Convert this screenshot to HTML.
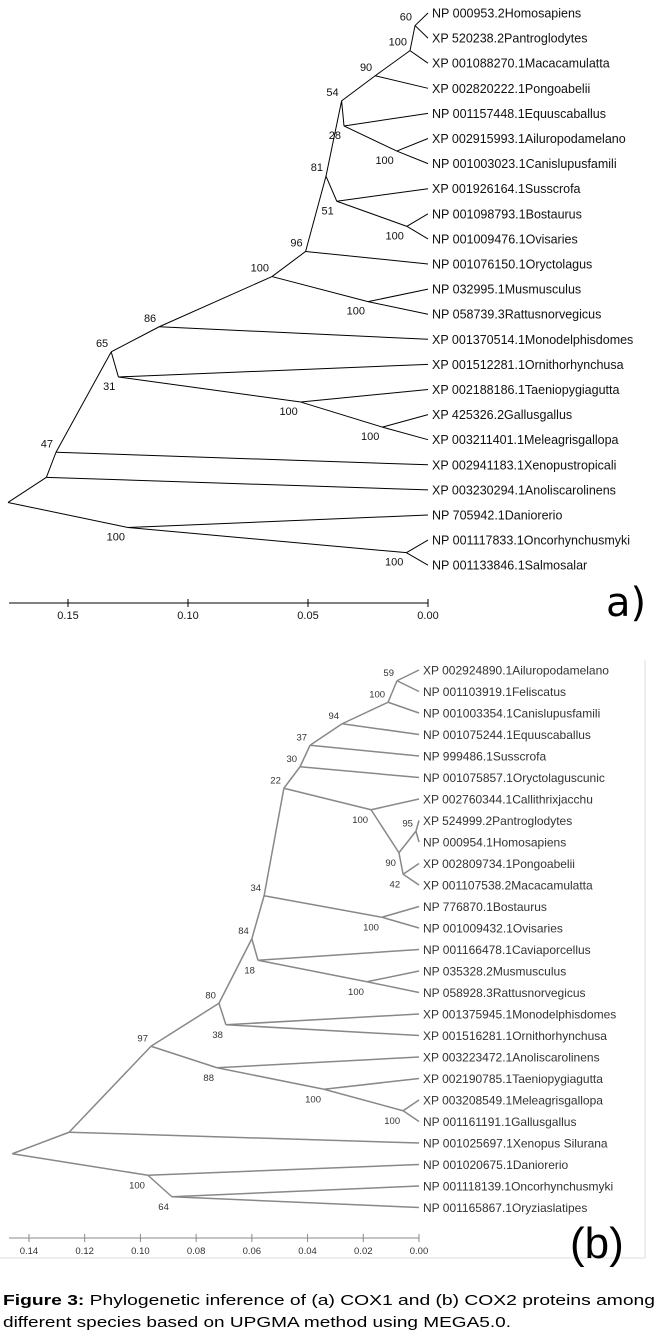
<!DOCTYPE html>
<html><head><meta charset="utf-8"><style>
html,body{margin:0;padding:0;background:#fff;}
svg{display:block;font-family:"Liberation Sans",sans-serif;}
</style></head><body>
<svg id="fig" width="659" height="1340" viewBox="0 0 659 1340" xmlns="http://www.w3.org/2000/svg">
<g id="treeA"></g>
<g id="treeB"></g>
<line x1="645" y1="660" x2="645" y2="1258" stroke="#ddd" stroke-width="1"/>
<line x1="0" y1="1258" x2="645" y2="1258" stroke="#ddd" stroke-width="1"/>
<text x="606" y="616" font-size="40" font-family="DejaVu Sans, sans-serif">a)</text>
<text x="570" y="1258" font-size="44">(b)</text>
<text x="3" y="1305" font-size="15" textLength="652" lengthAdjust="spacingAndGlyphs"><tspan font-weight="bold">Figure 3:</tspan> Phylogenetic inference of (a) COX1 and (b) COX2 proteins among</text>
<text x="3" y="1327" font-size="15" textLength="508" lengthAdjust="spacingAndGlyphs">different species based on UPGMA method using MEGA5.0.</text>
</svg>
<script>
// ---- Tree A (COX1) data ----
const leavesA = ["NP 000953.2Homosapiens","XP 520238.2Pantroglodytes","XP 001088270.1Macacamulatta","XP 002820222.1Pongoabelii","NP 001157448.1Equuscaballus","XP 002915993.1Ailuropodamelano","NP 001003023.1Canislupusfamili","XP 001926164.1Susscrofa","NP 001098793.1Bostaurus","NP 001009476.1Ovisaries","NP 001076150.1Oryctolagus","NP 032995.1Musmusculus","NP 058739.3Rattusnorvegicus","XP 001370514.1Monodelphisdomes","XP 001512281.1Ornithorhynchusa","XP 002188186.1Taeniopygiagutta","XP 425326.2Gallusgallus","XP 003211401.1Meleagrisgallopa","XP 002941183.1Xenopustropicali","XP 003230294.1Anoliscarolinens","NP 705942.1Daniorerio","NP 001117833.1Oncorhynchusmyki","NP 001133846.1Salmosalar"];
const nodeKidsA = [["L0","L1"],["N0","L2"],["N1","L3"],["L5","L6"],["L4","N3"],["N2","N4"],["L8","L9"],["L7","N6"],["N5","N7"],["N8","L10"],["L11","L12"],["N9","N10"],["N11","L13"],["L16","L17"],["L15","N13"],["L14","N14"],["N12","N15"],["N16","L18"],["N17","L19"],["L21","L22"],["L20","N19"],["N18","N20"]];
const nodeHeightsA = [0.0054,0.0075,0.022,0.013,0.035,0.036,0.0088,0.038,0.0425,0.051,0.025,0.065,0.112,0.019,0.053,0.129,0.132,0.155,0.159,0.009,0.125,0.175];
const nodeBootA = ["60","100","90","100","28","54","100","51","81","96","100","100","86","100","100","31","65","47","","100","100",""];
const bootSideA = ["a","a","a","b","b","a","b","b","a","a","b","a","a","b","b","b","a","a","","b","b",""];
const ticksA = [0.15,0.10,0.05,0.00];
const tickLabelsA = ["0.15","0.10","0.05","0.00"];
// ---- Tree B (COX2) data ----
const leavesB = ["XP 002924890.1Ailuropodamelano","NP 001103919.1Feliscatus","NP 001003354.1Canislupusfamili","NP 001075244.1Equuscaballus","NP 999486.1Susscrofa","NP 001075857.1Oryctolaguscunic","XP 002760344.1Callithrixjacchu","XP 524999.2Pantroglodytes","NP 000954.1Homosapiens","XP 002809734.1Pongoabelii","XP 001107538.2Macacamulatta","NP 776870.1Bostaurus","NP 001009432.1Ovisaries","NP 001166478.1Caviaporcellus","NP 035328.2Musmusculus","NP 058928.3Rattusnorvegicus","XP 001375945.1Monodelphisdomes","XP 001516281.1Ornithorhynchusa","XP 003223472.1Anoliscarolinens","XP 002190785.1Taeniopygiagutta","XP 003208549.1Meleagrisgallopa","NP 001161191.1Gallusgallus","NP 001025697.1Xenopus Silurana","NP 001020675.1Daniorerio","NP 001118139.1Oncorhynchusmyki","NP 001165867.1Oryziaslatipes"];
const nodeKidsB = [["L0","L1"],["N0","L2"],["N1","L3"],["N2","L4"],["N3","L5"],["L7","L8"],["L9","L10"],["N5","N6"],["L6","N7"],["N4","N8"],["L11","L12"],["N9","N10"],["L14","L15"],["L13","N12"],["N11","N13"],["L16","L17"],["N14","N15"],["L20","L21"],["L19","N17"],["L18","N18"],["N16","N19"],["N20","L22"],["L24","L25"],["L23","N22"],["N21","N23"]];
const nodeHeightsB = [0.0079,0.0111,0.0276,0.0391,0.0427,0.0011,0.0057,0.0072,0.0172,0.0485,0.0133,0.0556,0.0187,0.0578,0.06,0.0693,0.0718,0.0057,0.0341,0.0725,0.0962,0.1256,0.0887,0.0973,0.146];
const nodeBootB = ["59","100","94","37","30","95","42","90","100","22","100","34","100","18","84","38","80","100","100","88","97","","64","100",""];
const bootSideB = ["a","a","a","a","a","a","b","b","b","a","b","a","b","b","a","b","a","b","b","b","a","","b","b",""];
const ticksB = [0.14,0.12,0.10,0.08,0.06,0.04,0.02,0.00];
const tickLabelsB = ["0.14","0.12","0.10","0.08","0.06","0.04","0.02","0.00"];

const NS = "http://www.w3.org/2000/svg";
function mk(tag, attrs, parent){
  const e = document.createElementNS(NS, tag);
  for (const k in attrs) e.setAttribute(k, attrs[k]);
  parent.appendChild(e);
  return e;
}
function drawTree(g, leaves, kids, heights, boots, sides, ticks, tickLabels, cfg){
  const xs = h => cfg.x0 - h * cfg.k;
  const ly = i => cfg.y0 + i * cfg.dy;
  const pos = {};
  function ref(r){
    if (r[0] === "L"){ const i = +r.slice(1); return {x: xs(0), y: ly(i), first: i, last: i}; }
    return pos[r];
  }
  for (let n = 0; n < kids.length; n++){
    const a = ref(kids[n][0]), b = ref(kids[n][1]);
    const y = (ly(a.last) + ly(b.first)) / 2;
    pos["N"+n] = {x: xs(heights[n]), y: y, first: Math.min(a.first,b.first), last: Math.max(a.last,b.last)};
  }
  for (let n = 0; n < kids.length; n++){
    const p = pos["N"+n];
    for (const c of kids[n]){
      const q = ref(c);
      const l = mk("line", {x1:p.x, y1:p.y, x2:q.x, y2:q.y, stroke:cfg.stroke, "stroke-width":cfg.sw}, g);
      
      
    }
    if (boots[n]){
      const t = mk("text", {x: p.x - 3, y: sides[n] === "a" ? p.y - 5 : p.y + 13, "font-size": cfg.bfs, "text-anchor":"end", fill: cfg.tcol}, g);
      t.textContent = boots[n];
      
      
    }
  }
  leaves.forEach((name, i) => {
    const t = mk("text", {x: xs(0) + 4, y: ly(i) + cfg.fs*0.36, "font-size": cfg.fs, fill: cfg.tcol}, g);
    t.textContent = name;
    
    
  });
  const ax = mk("line", {x1: cfg.axStart, y1: cfg.axY, x2: xs(0), y2: cfg.axY, stroke: cfg.stroke, "stroke-width": 1}, g);
  
  
  ticks.forEach((v, i) => {
    const tk = mk("line", {x1: xs(v), y1: cfg.axY - 4, x2: xs(v), y2: cfg.axY + 4, stroke: cfg.stroke, "stroke-width": 1}, g);
    
    
    const tl = mk("text", {x: xs(v), y: cfg.axY + 16, "font-size": cfg.bfs, "text-anchor": "middle", fill: cfg.tcol}, g);
    tl.textContent = tickLabels[i];
    
    
  });
}
drawTree(document.getElementById("treeA"), leavesA, nodeKidsA, nodeHeightsA, nodeBootA, bootSideA, ticksA, tickLabelsA,
  {x0:428, k:2400, y0:13, dy:25.1, stroke:"#000", sw:1, fs:12.5, bfs:11, tcol:"#111", axY:603, axStart:9});
drawTree(document.getElementById("treeB"), leavesB, nodeKidsB, nodeHeightsB, nodeBootB, bootSideB, ticksB, tickLabelsB,
  {x0:419, k:2786, y0:670, dy:21.5, stroke:"#888", sw:1.5, fs:12, bfs:9.5, tcol:"#333", axY:1238, axStart:9});
</script>
</body></html>
